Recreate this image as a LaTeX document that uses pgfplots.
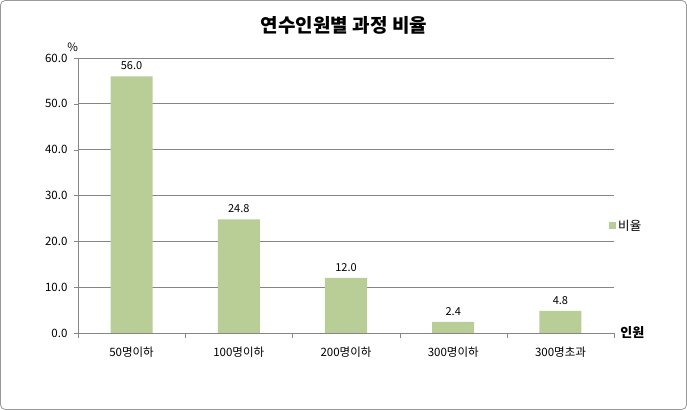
\documentclass[border=0pt]{standalone}
\usepackage{fontspec}
\setmainfont{Noto Sans CJK KR}
\usepackage{pgfplots}
\pgfplotsset{compat=1.18}
\definecolor{bargreen}{RGB}{185,206,150}
\definecolor{gridgray}{RGB}{134,134,134}
\begin{document}
\begin{tikzpicture}
% chart frame
\draw[rounded corners=5pt, gray!80, line width=0.8pt] (0.5pt,0.5pt) rectangle (686.5pt,409.5pt);
\node[font=\bfseries\fontsize{19}{21}\selectfont] at (344pt,385pt) {연수인원별 과정 비율};
\begin{axis}[
    at={(78pt,77pt)}, anchor=south west,
    scale only axis,
    width=536pt, height=275pt,
    xmin=-0.5, xmax=4.5,
    ymin=0, ymax=60,
    ytick={0,10,...,60},
    xtick={0,...,4},
    xticklabels={50명이하,100명이하,200명이하,300명이하,300명초과},
    minor xtick={-0.5,0.5,...,4.5},
    major x tick style={draw=none},
    minor tick length=5pt,
    major tick length=4pt,
    tick align=outside,
    axis x line*=bottom, axis y line*=left,
    axis line style={gridgray, -},
    tick style={gridgray},
    ymajorgrids, grid style={gridgray, line width=0.6pt},
    y tick label style={xshift=-3pt, /pgf/number format/.cd, fixed, fixed zerofill, precision=1},
    /pgf/number format/assume math mode=true,
    tick label style={font=\fontsize{11.5}{13}\selectfont},
    xticklabel style={yshift=-6pt},
    ybar, bar width=42pt,
    nodes near coords,
    nodes near coords style={yshift=3pt, font=\fontsize{11}{12}\selectfont, /pgf/number format/.cd, fixed, fixed zerofill, precision=1, assume math mode=true},
    legend style={at={(0.985,0.389)}, anchor=west, draw=none, fill=none,
        font=\fontsize{12.5}{14}\selectfont},
    legend image code/.code={\fill[bargreen] (0pt,-3.5pt) rectangle (7pt,3.5pt);},
    clip=false,
]
\addplot[fill=bargreen, draw=none] coordinates {(0,56.0) (1,24.8) (2,12.0) (3,2.4) (4,4.8)};
\addlegendentry{비율}
\node[font=\fontsize{11.5}{12}\selectfont, anchor=south] at (rel axis cs:-0.01,1.01) {\%};
\node[font=\bfseries\fontsize{13}{14}\selectfont, anchor=west] at (rel axis cs:1.005,0) {인원};
\end{axis}
\end{tikzpicture}
\end{document}
